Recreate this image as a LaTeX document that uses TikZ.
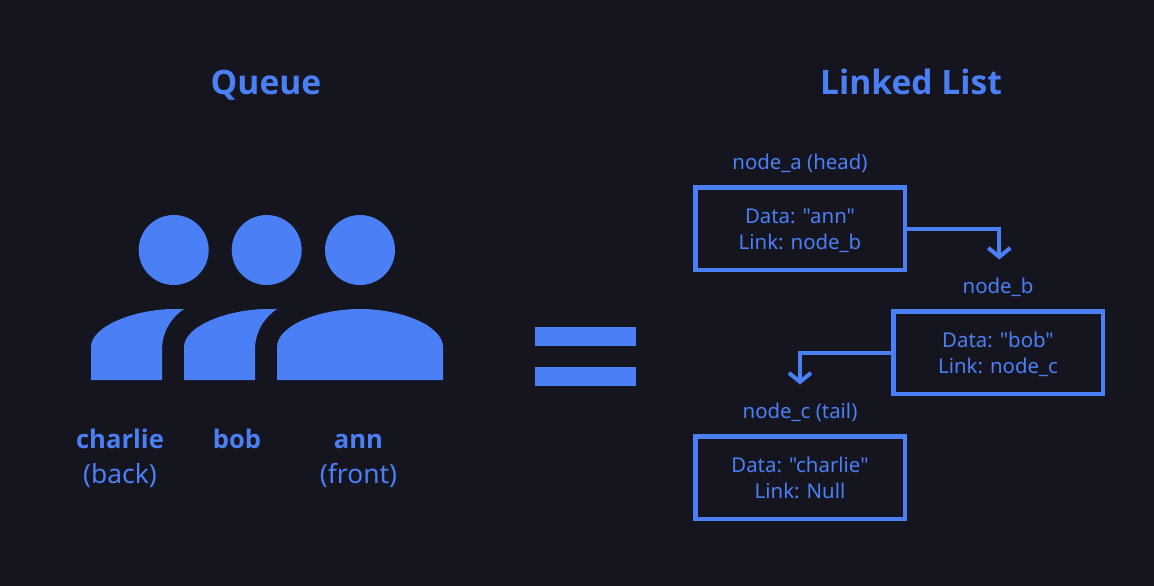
\documentclass[tikz,border=0pt]{standalone}
\usepackage{fontspec}
\newfontfamily\plainf{Noto Sans}
\newfontfamily\boldg{Open Sans Bold}
\usetikzlibrary{arrows.meta}
\definecolor{bgc}{RGB}{21,21,31}
\definecolor{blu}{RGB}{74,127,245}
\newcommand{\boxlines}[2]{\rule{0pt}{21pt}#1\\#2\rule[-5pt]{0pt}{5pt}}
\tikzset{
  title/.style={text=blu,font=\fontsize{33.6}{38}\selectfont\boldg,inner sep=0pt,anchor=base},
  small/.style={text=blu,font=\fontsize{20.4}{26}\selectfont\plainf,inner sep=0pt,anchor=base},
  who/.style={text=blu,font=\fontsize{25.6}{35}\selectfont\boldg,inner sep=0pt,anchor=base},
  whosub/.style={text=blu,font=\fontsize{26.4}{35}\selectfont\plainf,inner sep=0pt,anchor=base},
  listbox/.style={draw=blu,line width=4.5pt,minimum width=209.5pt,minimum height=82.5pt,inner sep=0pt,
    text=blu,font=\fontsize{20.4}{26}\selectfont\plainf,align=center,anchor=center},
  link/.style={draw=blu,line width=4pt,-{Straight Barb[length=9pt,width=22pt,line width=4pt]}},
  person/.style={fill=blu,draw=none},
}
\begin{document}
\begin{tikzpicture}[x=1pt,y=-1pt]
\useasboundingbox (0,0) rectangle (1154,586);
\fill[bgc] (0,0) rectangle (1154,586);
\node[title] (q) at (266,94) {Queue};
\node[title] (l) at (911,94) {Linked List};
% people
\fill[person] (173.7,250) circle (35);
\fill[person] (266.7,250) circle (35);
\fill[person] (360,250) circle (35);
\fill[person] (91,380) -- (91,347) .. controls (91,326) and (135,309) .. (175,309) -- (184,309)
  .. controls (172,317) and (162,331) .. (162,350) -- (162,380) -- cycle;
\fill[person] (184,380) -- (184,347) .. controls (184,326) and (228,309) .. (268,309) -- (277,309)
  .. controls (265,317) and (255,331) .. (255,350) -- (255,380) -- cycle;
\fill[person] (277,380) -- (277,347) .. controls (277,326) and (318,309) .. (360,309)
  .. controls (402,309) and (443,326) .. (443,347) -- (443,380) -- cycle;
\node[who] (c) at (120,448) {charlie};
\node[whosub] (cs) at (120,483) {(back)};
\node[who] (b) at (237,448) {bob};
\node[who] (a) at (358.5,448) {ann};
\node[whosub] (as) at (358.5,483) {(front)};
% equals
\fill[blu] (535,327) rectangle (636,346);
\fill[blu] (535,367) rectangle (636,386);
% list
\node[small] (la) at (800,169) {node\_a (head)};
\node[small] (lb) at (998,293) {node\_b};
\node[small] (lc) at (800,418) {node\_c (tail)};
\node[listbox] (na) at (800,228.7) {\boxlines{Data: "ann"}{Link: node\_b}};
\node[listbox] (nb) at (998,352.7) {\boxlines{Data: "bob"}{Link: node\_c}};
\node[listbox] (nc) at (800,477.7) {\boxlines{Data: "charlie"}{Link: Null}};
\coordinate (ea) at (999.3,259.5);
\coordinate (eb) at (800,384.5);
\draw[link] (na.east) -| (ea);
\draw[link] (nb.west) -| (eb);
\end{tikzpicture}
\end{document}
